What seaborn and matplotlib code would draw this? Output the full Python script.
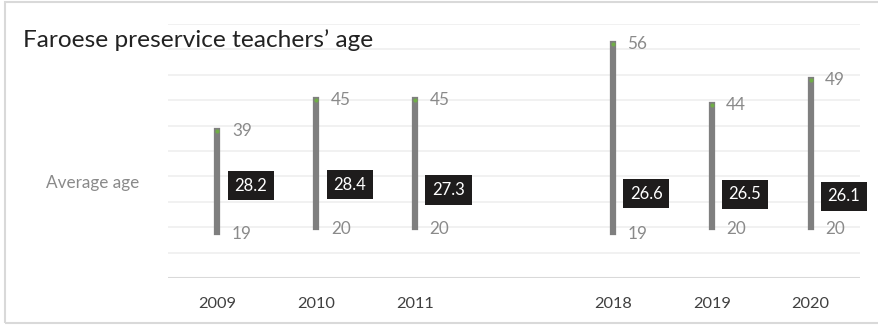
import matplotlib
matplotlib.use("Agg")
import matplotlib.pyplot as plt
import matplotlib.patches as patches
import seaborn as sns
import pandas as pd

sns.set_theme(style="white")
plt.rcParams['font.family'] = ['Lato', 'DejaVu Sans']

# data (gap slot between 2011 and 2018 left empty)
years = ["2009", "2010", "2011", "", "2018", "2019", "2020"]
max_age = [39, 45, 45, None, 56, 44, 49]
min_age = [19, 20, 20, None, 19, 20, 20]
avg_age = [28.2, 28.4, 27.3, None, 26.6, 26.5, 26.1]

df = pd.DataFrame({"year": years, "max": max_age, "min": min_age, "avg": avg_age})
df["pos"] = range(len(df))
d = df.dropna()

fig = plt.figure(figsize=(8.79, 3.25), dpi=100)
ax = fig.add_axes([168/879, 1-278/325, (860-168)/879, (278-24)/325])

grey_line = "#7f7f7f"
label_grey = "#8a8a8a"

# gridlines
for v in range(15, 61, 5):
    ax.axhline(v, color="#f0f0f0", lw=1.3, zorder=0)
ax.axhline(10, color="#d9d9d9", lw=1.5, zorder=0)

ax.vlines(d["pos"], d["min"], d["max"], color=grey_line, lw=4.5, capstyle="projecting", zorder=2)
sns.scatterplot(data=d, x="pos", y="max", color="#70ad47", s=9, linewidth=0, zorder=3, ax=ax)

for _, r in d.iterrows():
    ax.annotate(f"{int(r['max'])}", (r["pos"], r["max"]), xytext=(10.5, 0), textcoords="offset points",
                ha="left", va="center", fontsize=12.3, color=label_grey)
    ax.annotate(f"{int(r['min'])}", (r["pos"], r["min"]), xytext=(10.5, -1), textcoords="offset points",
                ha="left", va="center", fontsize=12.3, color=label_grey)
    ax.annotate(f"{r['avg']:.1f}", (r["pos"], r["avg"]), xytext=(24, 0), textcoords="offset points",
                ha="center", va="center", fontsize=12, color="white",
                bbox=dict(boxstyle="square,pad=0.4", fc="#1e1c1c", ec="none"))

ax.set_xlim(-0.5, len(years) - 0.5)
ax.set_ylim(10, 60)
ax.set_xticks(range(len(years)))
ax.set_xticklabels(years, fontsize=11.8, color="#404040")
ax.tick_params(axis="x", length=0, pad=14)
ax.set_yticks([])
ax.set_xlabel("")
ax.set_ylabel("")
sns.despine(ax=ax, left=True, bottom=True)

fig.text(23/879, 1-40/325, "Faroese preservice teachers\u2019 age", fontsize=17.6, color="#222222",
         ha="left", va="center")
fig.text(93/879, 1-183/325, "Average age", fontsize=12.3, color=label_grey, ha="center", va="center")

fig.patches.append(patches.Rectangle((5/879, 2/325), 1.0, 1-4/325, transform=fig.transFigure,
                                     fill=False, ec="#d9d9d9", lw=1.5))

fig.savefig("out.png", dpi=100)
